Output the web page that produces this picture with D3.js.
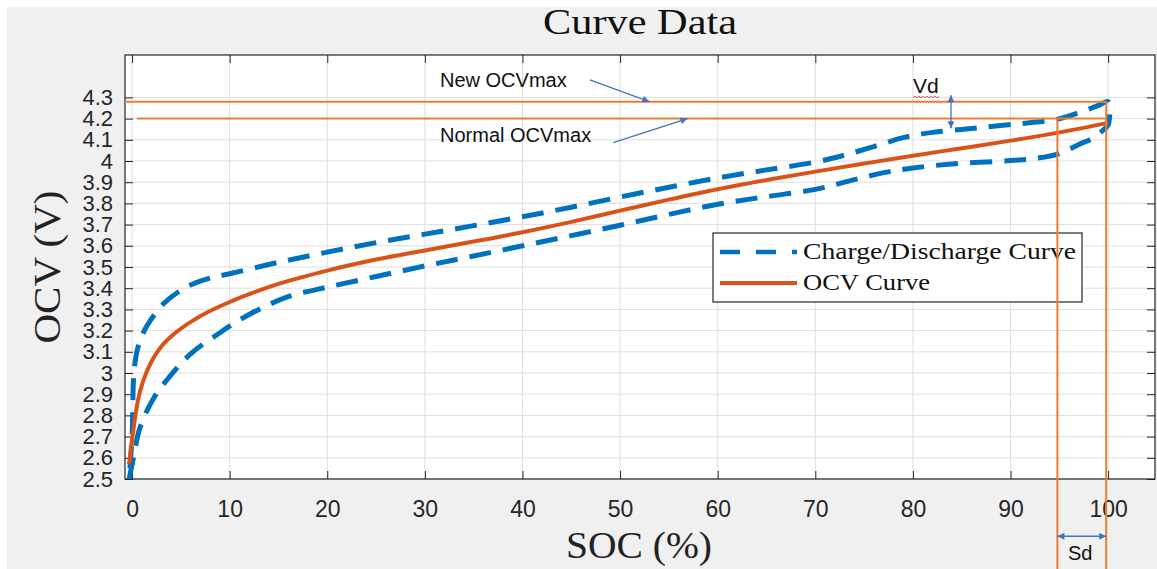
<!DOCTYPE html>
<html>
<head>
<meta charset="utf-8">
<script src="https://cdn.jsdelivr.net/npm/d3@7"></script>
<style>
  body { margin: 0; background: #fff; }
  svg { display: block; }
</style>
</head>
<body>
<div id="chart"></div>
<script>
// data: [SOC %, volts]
var ocvCurve = [
  [-0.3, 2.57], [0.1, 2.72], [0.6, 2.87], [1.2, 2.97], [2.0, 3.055], [3.0, 3.125],
  [4.2, 3.18], [6.5, 3.255], [10, 3.335], [15, 3.42], [20, 3.483], [25, 3.535],
  [30, 3.578], [35, 3.62], [40, 3.664], [45, 3.713], [50, 3.766], [55, 3.818],
  [60, 3.867], [65, 3.91], [70, 3.95], [75, 3.988], [80, 4.025], [85, 4.06],
  [90, 4.096], [95, 4.135], [100, 4.18]
];
var chargeCurve = [
  [-0.3, 2.5], [0.0, 2.7], [0.2, 3.0], [0.6, 3.12], [1.5, 3.22], [3.3, 3.33],
  [5, 3.39], [6.5, 3.425], [8, 3.448], [10, 3.468], [15, 3.522], [20, 3.57],
  [25, 3.615], [30, 3.655], [35, 3.695], [40, 3.737], [45, 3.782], [50, 3.83],
  [55, 3.876], [60, 3.92], [65, 3.958], [70, 3.995], [73, 4.028], [76, 4.068],
  [79, 4.11], [82, 4.135], [86, 4.153], [90, 4.172], [94.6, 4.195], [97, 4.228],
  [99, 4.262], [100, 4.28]
];
var dischargeCurve = [
  [-0.3, 2.5], [0.15, 2.6], [0.8, 2.74], [2.2, 2.88], [3.8, 2.98], [6, 3.09],
  [9, 3.19], [11, 3.25], [13, 3.3], [16, 3.36], [20, 3.405], [25, 3.455],
  [30, 3.505], [35, 3.552], [40, 3.6], [45, 3.648], [50, 3.697], [55, 3.748],
  [60, 3.796], [65, 3.832], [70, 3.866], [74, 3.912], [77, 3.945], [80, 3.967],
  [84, 3.986], [90, 4.002], [93, 4.015], [95, 4.035], [97, 4.078], [98.5, 4.11],
  [99.6, 4.15], [100, 4.17]
];
var xTicks = [0, 10, 20, 30, 40, 50, 60, 70, 80, 90, 100];
var xTickLabels = ["0", "10", "20", "30", "40", "50", "60", "70", "80", "90", "100"];
var yTicks = [2.5, 2.6, 2.7, 2.8, 2.9, 3.0, 3.1, 3.2, 3.3, 3.4, 3.5, 3.6, 3.7, 3.8, 3.9, 4.0, 4.1, 4.2, 4.3];
var yTickLabels = ["2.5", "2.6", "2.7", "2.8", "2.9", "3", "3.1", "3.2", "3.3", "3.4", "3.5",
  "3.6", "3.7", "3.8", "3.9", "4", "4.1", "4.2", "4.3"];
var seriesNames = ["Charge/Discharge Curve", "OCV Curve"];
// annotation values
var newOcvMax = 4.28, normalOcvMax = 4.2;
var sdStart = 94.8, sdEnd = 99.8;

var width = 1157, height = 569;
var svg = d3.select("#chart").append("svg").attr("width", width).attr("height", height);

var blue = "#0072BD", red = "#D95319", annot = "#ED7D31", arrowBlue = "#4472C4", axisCol = "#262626";

svg.append("rect").attr("x", 7).attr("y", 7).attr("width", width - 7).attr("height", height - 7).attr("fill", "#f0f0f0");

var x = d3.scaleLinear().domain([-0.72, 104.8]).range([125, 1155]);
var y = d3.scaleLinear().domain([2.5, 4.5]).range([479, 55]);

svg.append("rect").attr("x", 125).attr("y", 55).attr("width", 1030).attr("height", 424).attr("fill", "#fff");

// grid
var grid = svg.append("g").attr("stroke", "#dedede").attr("stroke-width", 1);
grid.selectAll(".vx").data(xTicks).enter().append("line")
  .attr("x1", function(d) { return x(d); }).attr("x2", function(d) { return x(d); })
  .attr("y1", y.range()[0]).attr("y2", y.range()[1]);
grid.selectAll(".hy").data(yTicks).enter().append("line")
  .attr("y1", function(d) { return y(d); }).attr("y2", function(d) { return y(d); })
  .attr("x1", x.range()[0]).attr("x2", x.range()[1]);

// axes with inward ticks on all four sides
function styleAxis(g) {
  g.attr("font-family", "'Liberation Sans', Arial, sans-serif").attr("font-size", 21);
  g.selectAll("text").attr("fill", axisCol);
  g.selectAll("line").attr("stroke", axisCol);
  g.select(".domain").remove();
}
svg.append("g").attr("transform", "translate(0," + y(2.5) + ")")
  .call(d3.axisBottom(x).tickValues(xTicks).tickFormat(function(d, i) { return xTickLabels[i]; })
    .tickSizeInner(-8).tickSizeOuter(0).tickPadding(22))
  .call(styleAxis)
  .attr("font-size", 23);
svg.append("g").attr("transform", "translate(0," + y(4.5) + ")")
  .call(d3.axisTop(x).tickValues(xTicks).tickFormat("").tickSizeInner(-8).tickSizeOuter(0))
  .call(styleAxis);
svg.append("g").attr("transform", "translate(" + x.range()[0] + ",0)")
  .call(d3.axisLeft(y).tickValues(yTicks).tickFormat(function(d, i) { return yTickLabels[i]; })
    .tickSizeInner(-8).tickSizeOuter(0).tickPadding(12))
  .call(styleAxis)
  .attr("font-size", 22);
svg.append("g").attr("transform", "translate(" + x.range()[1] + ",0)")
  .call(d3.axisRight(y).tickValues(yTicks).tickFormat("").tickSizeInner(-8).tickSizeOuter(0))
  .call(styleAxis);

svg.append("rect").attr("x", 125).attr("y", 55).attr("width", 1030).attr("height", 424)
  .attr("fill", "none").attr("stroke", axisCol).attr("stroke-width", 1.2);

// curves
var loopLine = d3.line()
  .x(function(d) { return x(d[0]); })
  .y(function(d) { return y(d[1]); })
  .curve(d3.curveCatmullRom);
var ocvLine = d3.line()
  .x(function(d) { return x(d[0]); })
  .y(function(d) { return y(d[1]); })
  .curve(d3.curveMonotoneX);

// one loop: discharge up to 100 %, then charge back down
var loop = dischargeCurve.concat(chargeCurve.slice().reverse());
svg.append("path").datum(loop).attr("d", loopLine)
  .attr("fill", "none").attr("stroke", blue).attr("stroke-width", 5)
  .attr("stroke-dasharray", "22,12");

svg.append("path").datum(ocvCurve).attr("d", ocvLine)
  .attr("fill", "none").attr("stroke", red).attr("stroke-width", 4);

// title and labels
var serif = "'Liberation Serif', 'Times New Roman', serif";
svg.append("text").attr("x", 640).attr("y", 34).attr("text-anchor", "middle")
  .attr("font-family", serif).attr("font-size", 35).attr("fill", "#111")
  .attr("textLength", 194).attr("lengthAdjust", "spacingAndGlyphs").text("Curve Data");
svg.append("text").attr("x", 639).attr("y", 558).attr("text-anchor", "middle")
  .attr("font-family", serif).attr("font-size", 38).attr("fill", "#222")
  .attr("textLength", 146).attr("lengthAdjust", "spacingAndGlyphs").text("SOC (%)");
svg.append("text").attr("transform", "translate(60,267) rotate(-90)").attr("text-anchor", "middle")
  .attr("font-family", serif).attr("font-size", 38).attr("fill", "#222")
  .attr("textLength", 153).attr("lengthAdjust", "spacingAndGlyphs").text("OCV (V)");

// legend
var legend = svg.append("g");
legend.append("rect").attr("x", 713).attr("y", 233).attr("width", 369).attr("height", 69)
  .attr("fill", "#fff").attr("stroke", axisCol).attr("stroke-width", 1.2);
legend.append("line").attr("x1", 720).attr("x2", 797).attr("y1", 252).attr("y2", 252)
  .attr("stroke", blue).attr("stroke-width", 4.5).attr("stroke-dasharray", "20,16");
legend.append("line").attr("x1", 720).attr("x2", 797).attr("y1", 283).attr("y2", 283)
  .attr("stroke", red).attr("stroke-width", 4);
legend.append("text").attr("x", 803).attr("y", 258.5).attr("font-family", serif).attr("font-size", 24)
  .attr("fill", "#111").attr("textLength", 273).attr("lengthAdjust", "spacingAndGlyphs").text(seriesNames[0]);
legend.append("text").attr("x", 803).attr("y", 289.5).attr("font-family", serif).attr("font-size", 24)
  .attr("fill", "#111").attr("textLength", 127).attr("lengthAdjust", "spacingAndGlyphs").text(seriesNames[1]);

// annotation lines
var ann = svg.append("g").attr("stroke", annot).attr("stroke-width", 2).attr("fill", "none");
ann.append("line").attr("x1", x.range()[0]).attr("x2", x(sdEnd)).attr("y1", y(newOcvMax)).attr("y2", y(newOcvMax));
ann.append("line").attr("x1", x(0.5)).attr("x2", x(sdEnd)).attr("y1", y(normalOcvMax)).attr("y2", y(normalOcvMax));
ann.append("line").attr("x1", x(sdStart)).attr("x2", x(sdStart)).attr("y1", y(normalOcvMax)).attr("y2", height);
ann.append("line").attr("x1", x(sdEnd)).attr("x2", x(sdEnd)).attr("y1", y(newOcvMax)).attr("y2", height);

// arrow heads
var defs = svg.append("defs");
defs.append("marker").attr("id", "head").attr("viewBox", "0 0 10 10").attr("refX", 10).attr("refY", 5)
  .attr("markerWidth", 9).attr("markerHeight", 7).attr("markerUnits", "userSpaceOnUse").attr("orient", "auto-start-reverse")
  .append("path").attr("d", "M0,0L10,5L0,10z").attr("fill", arrowBlue);

var arrows = svg.append("g").attr("stroke", arrowBlue).attr("stroke-width", 1.3).attr("fill", "none");
// [x1 soc, y1 V, x2 soc, y2 V, both ends]
var arrowList = [
  [46.9, 4.383, 53.0, newOcvMax, false],
  [49.3, 4.087, 56.9, normalOcvMax, false],
  [83.9, 4.31, 83.9, 4.155, true],
  [sdStart, 2.23, sdEnd, 2.23, true]
];
arrowList.forEach(function(a) {
  var l = arrows.append("line").attr("x1", x(a[0])).attr("y1", y(a[1])).attr("x2", x(a[2])).attr("y2", y(a[3]))
    .attr("marker-end", "url(#head)");
  if (a[4]) l.attr("marker-start", "url(#head)");
});

var sans = "'Liberation Sans', Arial, sans-serif";
svg.append("text").attr("x", 440).attr("y", y(4.35)).attr("font-family", sans).attr("font-size", 20)
  .attr("fill", "#111").text("New OCVmax");
svg.append("text").attr("x", 440).attr("y", y(4.09)).attr("font-family", sans).attr("font-size", 20)
  .attr("fill", "#111").text("Normal OCVmax");
svg.append("text").attr("x", 913).attr("y", 93).attr("font-family", sans).attr("font-size", 21)
  .attr("fill", "#111").text("Vd");
// spell-check squiggle under Vd
svg.append("path").attr("d", "M913,98 l2,-2 l2,2 l2,-2 l2,2 l2,-2 l2,2 l2,-2 l2,2 l2,-2 l2,2 l2,-2 l2,2 l2,-2")
  .attr("fill", "none").attr("stroke", "#e03030").attr("stroke-width", 0.8);
svg.append("text").attr("x", 1068).attr("y", 560).attr("font-family", sans).attr("font-size", 20)
  .attr("fill", "#111").text("Sd");
</script>
</body>
</html>
